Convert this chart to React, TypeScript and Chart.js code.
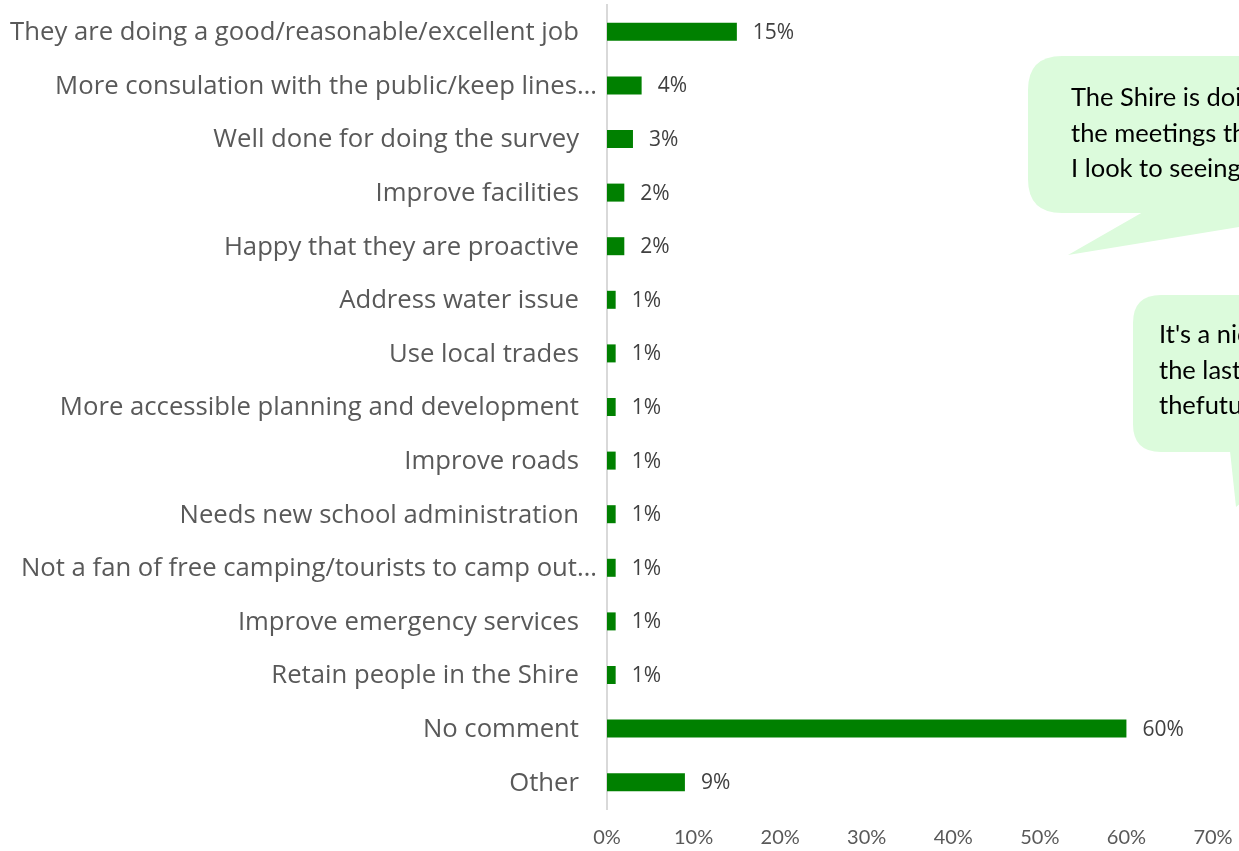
import React, { useEffect, useRef } from "react";
import { Chart, registerables } from "chart.js";

Chart.register(...registerables);

const categories: string[] = [
  "They are doing a good/reasonable/excellent job",
  "More consulation with the public/keep lines…",
  "Well done for doing the survey",
  "Improve facilities",
  "Happy that they are proactive",
  "Address water issue",
  "Use local trades",
  "More accessible planning and development",
  "Improve roads",
  "Needs new school administration",
  "Not a fan of free camping/tourists to camp out…",
  "Improve emergency services",
  "Retain people in the Shire",
  "No comment",
  "Other",
];

const values: number[] = [15, 4, 3, 2, 2, 1, 1, 1, 1, 1, 1, 1, 1, 60, 9];

const xTicks: number[] = [0, 10, 20, 30, 40, 50, 60, 70];

const callout1Lines: string[] = ["The Shire is doing", "the meetings they", "I look to seeing"];
const callout2Lines: string[] = ["It's a nice", "the last", "thefuture"];

const BAR_COLOR = "#008000";
const LABEL_COLOR = "#595959";
const BUBBLE_FILL = "#dcfbdc";
const CAT_FONT = "25.7px 'Open Sans', sans-serif";

function roundRectPath(ctx: CanvasRenderingContext2D, x: number, y: number, w: number, h: number, r: number) {
  ctx.moveTo(x + r, y);
  ctx.lineTo(x + w - r, y);
  ctx.quadraticCurveTo(x + w, y, x + w, y + r);
  ctx.lineTo(x + w, y + h - r);
  ctx.quadraticCurveTo(x + w, y + h, x + w - r, y + h);
  ctx.lineTo(x + r, y + h);
  ctx.quadraticCurveTo(x, y + h, x, y + h - r);
  ctx.lineTo(x, y + r);
  ctx.quadraticCurveTo(x, y, x + r, y);
}

const categoryLabelPlugin = {
  id: "categoryLabels",
  afterDraw(chart: any) {
    const ctx = chart.ctx as CanvasRenderingContext2D;
    const yScale = chart.scales.y;
    const right = chart.chartArea.left - 28;
    ctx.save();
    ctx.font = CAT_FONT;
    ctx.fillStyle = LABEL_COLOR;
    ctx.textAlign = "right";
    ctx.textBaseline = "middle";
    const ellW = ctx.measureText("…").width;
    categories.forEach((c, i) => {
      const y = yScale.getPixelForValue(i) + 1;
      const x = c.endsWith("…") ? right - 2 + ellW : right;
      ctx.fillText(c, x, y);
    });
    ctx.restore();
  },
};

const dataLabelPlugin = {
  id: "dataLabels",
  afterDatasetsDraw(chart: any) {
    const ctx = chart.ctx as CanvasRenderingContext2D;
    const meta = chart.getDatasetMeta(0);
    ctx.save();
    ctx.font = "21px 'Open Sans', sans-serif";
    ctx.fillStyle = "#404040";
    ctx.textAlign = "left";
    ctx.textBaseline = "middle";
    meta.data.forEach((bar: any, i: number) => {
      ctx.fillText(values[i] + "%", bar.x + 16, bar.y + 1);
    });
    ctx.restore();
  },
};

const calloutPlugin = {
  id: "callouts",
  afterDraw(chart: any) {
    const ctx = chart.ctx as CanvasRenderingContext2D;
    ctx.save();
    ctx.fillStyle = BUBBLE_FILL;
    // bubble 1
    ctx.beginPath();
    roundRectPath(ctx, 1028, 56, 300, 157, 34);
    ctx.fill();
    ctx.beginPath();
    ctx.moveTo(1143, 212);
    ctx.lineTo(1068, 255);
    ctx.lineTo(1300, 217);
    ctx.lineTo(1300, 212);
    ctx.closePath();
    ctx.fill();
    // bubble 2
    ctx.beginPath();
    roundRectPath(ctx, 1133, 295, 300, 157, 28);
    ctx.fill();
    ctx.beginPath();
    ctx.moveTo(1230, 451);
    ctx.lineTo(1236, 507);
    ctx.lineTo(1300, 451);
    ctx.closePath();
    ctx.fill();

    ctx.fillStyle = "#000000";
    ctx.font = "25.5px Lato, sans-serif";
    ctx.textAlign = "left";
    ctx.textBaseline = "middle";
    callout1Lines.forEach((t, i) => ctx.fillText(t, 1071, 98 + i * 35.5));
    callout2Lines.forEach((t, i) => ctx.fillText(t, 1159, 335 + i * 35.5));
    ctx.restore();
  },
};

export default function App() {
  const canvasRef = useRef<HTMLCanvasElement | null>(null);

  useEffect(() => {
    if (!canvasRef.current) return;
    const chart = new Chart(canvasRef.current, {
      type: "bar",
      data: {
        labels: categories,
        datasets: [
          {
            data: values,
            backgroundColor: BAR_COLOR,
            borderWidth: 0,
            categoryPercentage: 1,
            barPercentage: 0.336,
          },
        ],
      },
      options: {
        indexAxis: "y",
        responsive: false,
        animation: false,
        devicePixelRatio: 1,
        layout: { padding: { top: 5, right: 26, left: 0, bottom: 0 } },
        plugins: {
          legend: { display: false },
          tooltip: { enabled: false },
        },
        scales: {
          x: {
            min: 0,
            max: 70,
            afterBuildTicks: (scale: any) => {
              scale.ticks = xTicks.map((v) => ({ value: v }));
            },
            afterFit: (scale: any) => {
              scale.height = 42;
              scale.paddingLeft = 0;
              scale.paddingRight = 0;
            },
            grid: { display: false },
            border: { display: false },
            ticks: {
              padding: 9,
              color: LABEL_COLOR,
              font: { family: "Lato, sans-serif", size: 20 },
              callback: (v: any) => v + "%",
            },
          },
          y: {
            afterFit: (scale: any) => {
              scale.width = 607;
              scale.paddingTop = 0;
              scale.paddingBottom = 0;
            },
            grid: { display: false },
            border: { display: true, color: "#d9d9d9", width: 2 },
            ticks: { display: false },
          },
        },
      },
      plugins: [categoryLabelPlugin, dataLabelPlugin, calloutPlugin],
    });
    return () => chart.destroy();
  }, []);

  return (
    <div style={{ position: "absolute", left: 0, top: 0, width: 1239, height: 851, overflow: "hidden", background: "#fff" }}>
      <canvas ref={canvasRef} width={1239} height={851} />
    </div>
  );
}
